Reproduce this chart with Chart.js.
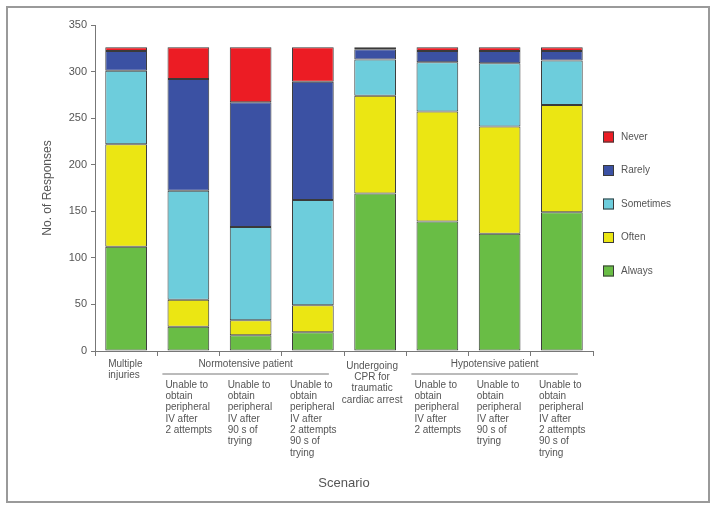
<!DOCTYPE html>
<html>
<head>
<meta charset="utf-8">
<script src="https://cdn.jsdelivr.net/npm/chart.js@4.4.1/dist/chart.umd.min.js"></script>
<style>
  html, body { margin: 0; padding: 0; background: #fff; }
  #wrap { width: 716px; height: 509px; position: relative; }
</style>
</head>
<body>
<div id="wrap"><canvas id="chart" width="716" height="509"></canvas></div>
<script>
// Данные графика
const scenarios = ['Multiple injuries', 'Normo 2 attempts', 'Normo 90 s', 'Normo 2 attempts 90 s',
  'CPR', 'Hypo 2 attempts', 'Hypo 90 s', 'Hypo 2 attempts 90 s'];
const always    = [112, 26, 17, 20, 169, 139, 126, 149];
const often     = [110, 29, 16, 29, 105, 118, 115, 115];
const sometimes = [79, 117, 100, 113, 39, 53, 68, 48];
const rarely    = [21, 120, 134, 127, 11, 12, 13, 10];
const never     = [4, 34, 59, 37, 2, 4, 4, 4];
const yTicks = [0, 50, 100, 150, 200, 250, 300, 350];

// Подписи категорий
const catLabels = [
  ['Multiple', 'injuries'],
  ['Unable to', 'obtain', 'peripheral', 'IV after', '2 attempts'],
  ['Unable to', 'obtain', 'peripheral', 'IV after', '90 s of', 'trying'],
  ['Unable to', 'obtain', 'peripheral', 'IV after', '2 attempts', '90 s of', 'trying'],
  ['Undergoing', 'CPR for', 'traumatic', 'cardiac arrest'],
  ['Unable to', 'obtain', 'peripheral', 'IV after', '2 attempts'],
  ['Unable to', 'obtain', 'peripheral', 'IV after', '90 s of', 'trying'],
  ['Unable to', 'obtain', 'peripheral', 'IV after', '2 attempts', '90 s of', 'trying']
];
const groups = [
  { label: 'Normotensive patient', from: 1, to: 3 },
  { label: 'Hypotensive patient', from: 5, to: 7 }
];

const FONT = '"Liberation Sans", Arial, sans-serif';
const TEXT = '#555';

const ds = (label, data, color) => ({
  label, data,
  backgroundColor: color,
  borderColor: '#3a3a3a',
  borderWidth: 1,
  borderSkipped: false,
  barPercentage: 0.67,
  categoryPercentage: 1
});

// Рамка, подписи категорий и легенда
const decor = {
  id: 'decor',
  beforeDraw(chart) {
    const c = chart.ctx;
    c.save();
    c.fillStyle = '#fff';
    c.fillRect(0, 0, chart.width, chart.height);
    c.strokeStyle = '#9a9a9a';
    c.lineWidth = 2;
    c.strokeRect(7, 7, 702, 495);
    c.restore();
  },
  afterDraw(chart) {
    const c = chart.ctx;
    const x = chart.scales.x;
    c.save();
    c.fillStyle = TEXT;
    c.font = '10px ' + FONT;
    c.textBaseline = 'middle';

    catLabels.forEach((lines, i) => {
      const cx = x.getPixelForValue(i);
      if (i === 0) {
        c.textAlign = 'left';
        lines.forEach((t, k) => c.fillText(t, cx - 18, 364 + k * 11.3));
      } else if (i === 4) {
        c.textAlign = 'center';
        lines.forEach((t, k) => c.fillText(t, cx - 3, 366 + k * 11.3));
      } else {
        c.textAlign = 'left';
        lines.forEach((t, k) => c.fillText(t, cx - 23, 385 + k * 11.3));
      }
    });

    groups.forEach(g => {
      const a = x.getPixelForValue(g.from) - 26;
      const b = x.getPixelForValue(g.to) + 16;
      c.textAlign = 'center';
      c.fillText(g.label, (a + b) / 2, 364);
      c.strokeStyle = '#777';
      c.lineWidth = 1;
      c.beginPath();
      c.moveTo(a, 374);
      c.lineTo(b, 374);
      c.stroke();
    });

    c.font = '13px ' + FONT;
    c.textAlign = 'center';
    c.fillText('Scenario', 344, 483);

    // Легенда (Never сверху)
    c.font = '10px ' + FONT;
    c.textAlign = 'left';
    const items = chart.data.datasets.slice().reverse();
    items.forEach((d, i) => {
      const y = 137 + i * 33.5;
      c.fillStyle = d.backgroundColor;
      c.fillRect(603, y - 5.5, 11, 11);
      c.strokeStyle = '#3a3a3a';
      c.lineWidth = 1;
      c.strokeRect(603.5, y - 5, 10, 10);
      c.fillStyle = TEXT;
      c.fillText(d.label, 621, y);
    });
    c.restore();
  }
};

new Chart(document.getElementById('chart'), {
  type: 'bar',
  data: {
    labels: scenarios,
    datasets: [
      ds('Always', always, '#69bd45'),
      ds('Often', often, '#ebe613'),
      ds('Sometimes', sometimes, '#6dcddc'),
      ds('Rarely', rarely, '#3b51a3'),
      ds('Never', never, '#ec1c24')
    ]
  },
  options: {
    responsive: false,
    animation: false,
    layout: { padding: { left: 0, right: 123, top: 25, bottom: 0 } },
    plugins: {
      legend: { display: false },
      tooltip: { enabled: false }
    },
    scales: {
      x: {
        stacked: true,
        afterFit(scale) { scale.height = 158; },
        ticks: { display: false },
        grid: {
          drawOnChartArea: false,
          drawTicks: true,
          tickLength: 5,
          color: '#777'
        },
        border: { display: true, color: '#777', width: 1 }
      },
      y: {
        stacked: true,
        min: 0,
        max: 350,
        afterFit(scale) { scale.width = 95; },
        afterBuildTicks(scale) { scale.ticks = yTicks.map(v => ({ value: v })); },
        ticks: {
          color: TEXT,
          font: { family: FONT, size: 11 },
          padding: 4
        },
        grid: {
          drawOnChartArea: false,
          drawTicks: true,
          tickLength: 4,
          color: '#777'
        },
        border: { display: true, color: '#777', width: 1 },
        title: {
          display: true,
          text: 'No. of Responses',
          color: TEXT,
          font: { family: FONT, size: 12 },
          padding: { top: 40, bottom: 0 }
        }
      }
    }
  },
  plugins: [decor]
});
</script>
</body>
</html>
